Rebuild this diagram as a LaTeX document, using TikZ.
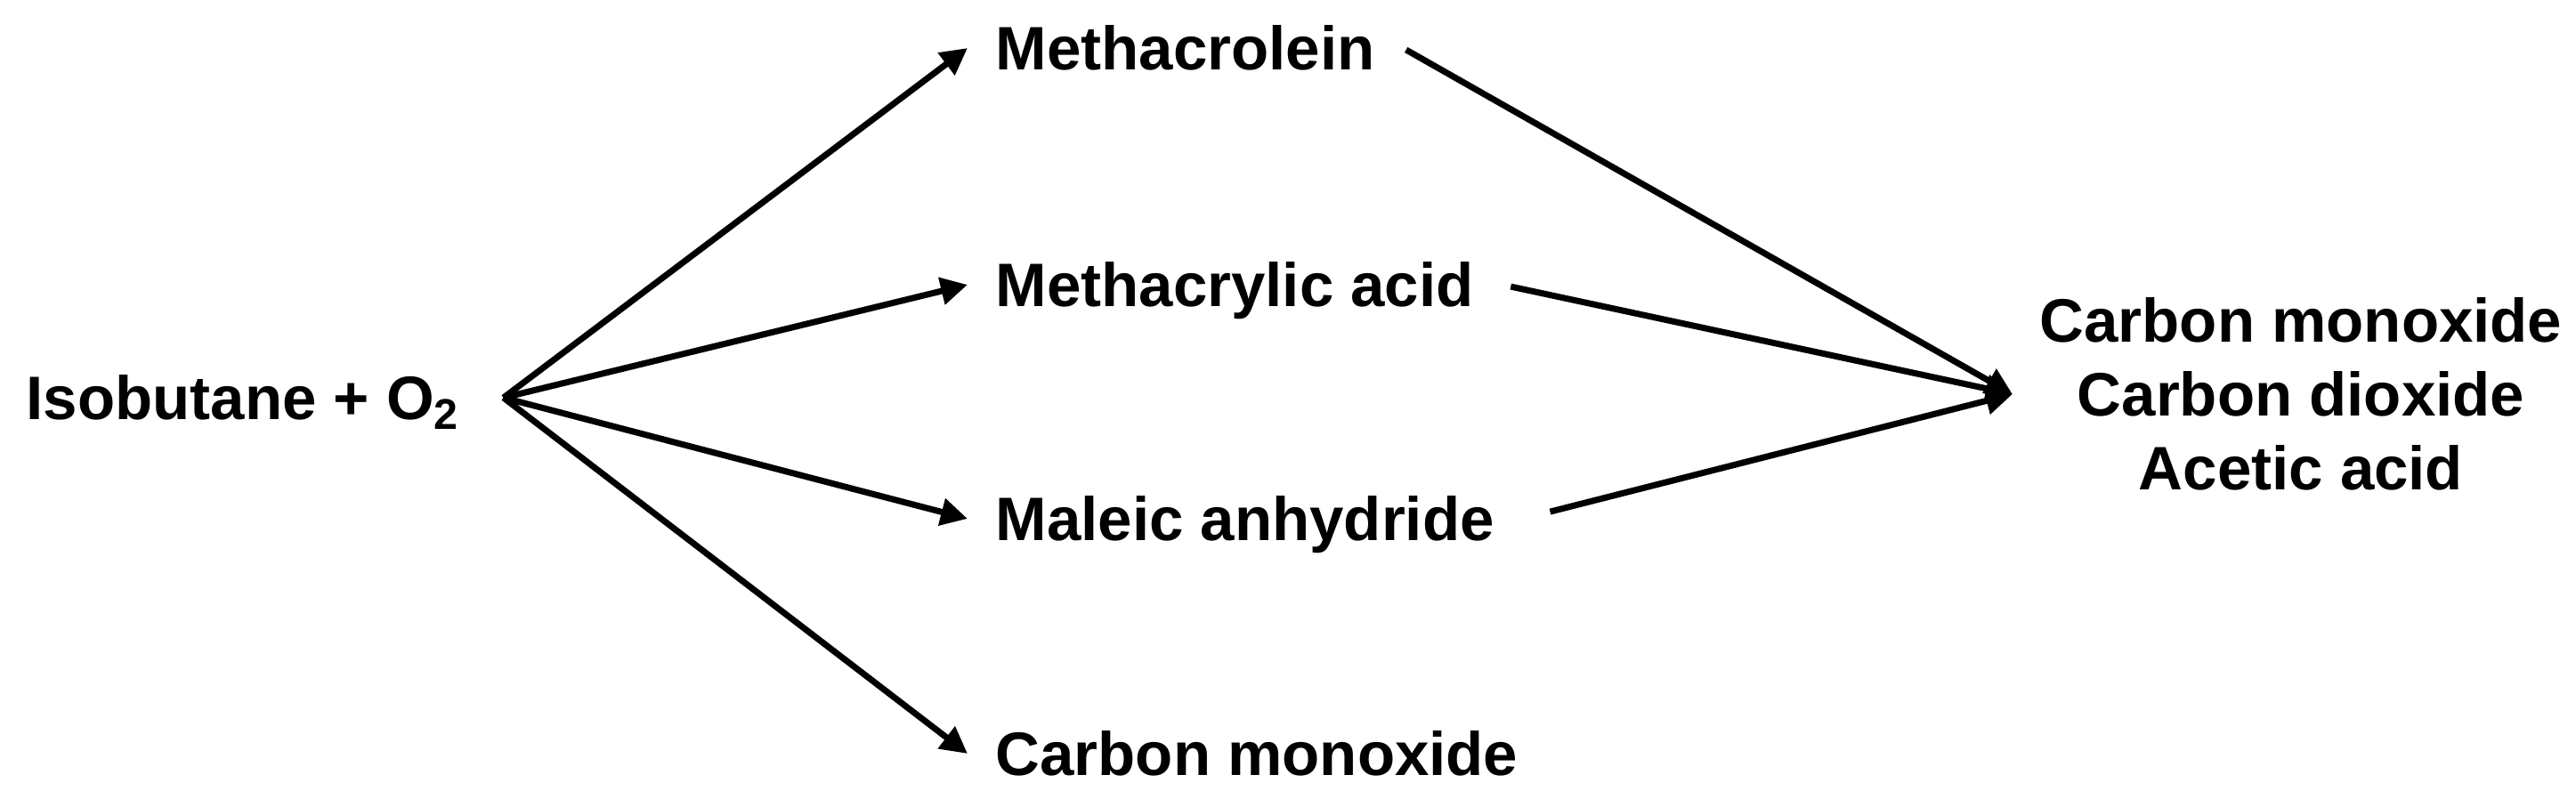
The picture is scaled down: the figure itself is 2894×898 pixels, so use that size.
\documentclass[tikz,border=0pt]{standalone}
\usepackage{fontspec}
\setmainfont{Liberation Sans}
\usetikzlibrary{arrows.meta}
\newcommand{\chemfont}{\fontsize{17.25}{20.75}\selectfont\bfseries}
\tikzset{
  chem/.style={inner xsep=7.75pt, inner ysep=0pt, font=\chemfont, text height=12.35pt, text depth=0pt},
  rxn/.style={line width=1.75pt, -{Triangle[length=7.5pt,width=7.5pt]}},
}
\begin{document}
\begin{tikzpicture}[x=0.25pt,y=0.25pt,yscale=-1,xscale=1]
\useasboundingbox (0,0) rectangle (2894,898);

% Text Node
\node (feed) [chem, inner xsep=0pt, anchor=west] at (29,447) {Isobutane + O\textsubscript{2}};
% Text Node
\node (macr) [chem, anchor=west] at (1087,54) {Methacrolein};
% Text Node
\node (maa) [chem, anchor=west] at (1087,320) {Methacrylic acid};
% Text Node
\node (ma) [chem, anchor=west] at (1087,583) {Maleic anhydride};
% Text Node
\node (co) [chem, anchor=west] at (1087,847) {Carbon monoxide};
% Text Node
\node (prod) [font=\chemfont, inner sep=0pt, align=center] at (2585,443) {Carbon monoxide\\Carbon dioxide\\Acetic acid};

\coordinate (fan) at ([xshift=12pt]feed.east);
\coordinate (sink) at ([xshift=-7.5pt]prod.west);

%Straight Lines
\draw [rxn] (fan) -- (macr.west);
\draw [rxn] (fan) -- (maa.west);
\draw [rxn] (fan) -- (ma.west);
\draw [rxn] (fan) -- (co.west);
%Straight Lines
\draw [rxn, shorten <=1pt] (macr.east) -- (sink);
\draw [rxn, shorten <=2.5pt] (maa.east) -- (sink);
\draw [rxn, shorten <=8pt] (ma.east) -- (sink);

\end{tikzpicture}
\end{document}
